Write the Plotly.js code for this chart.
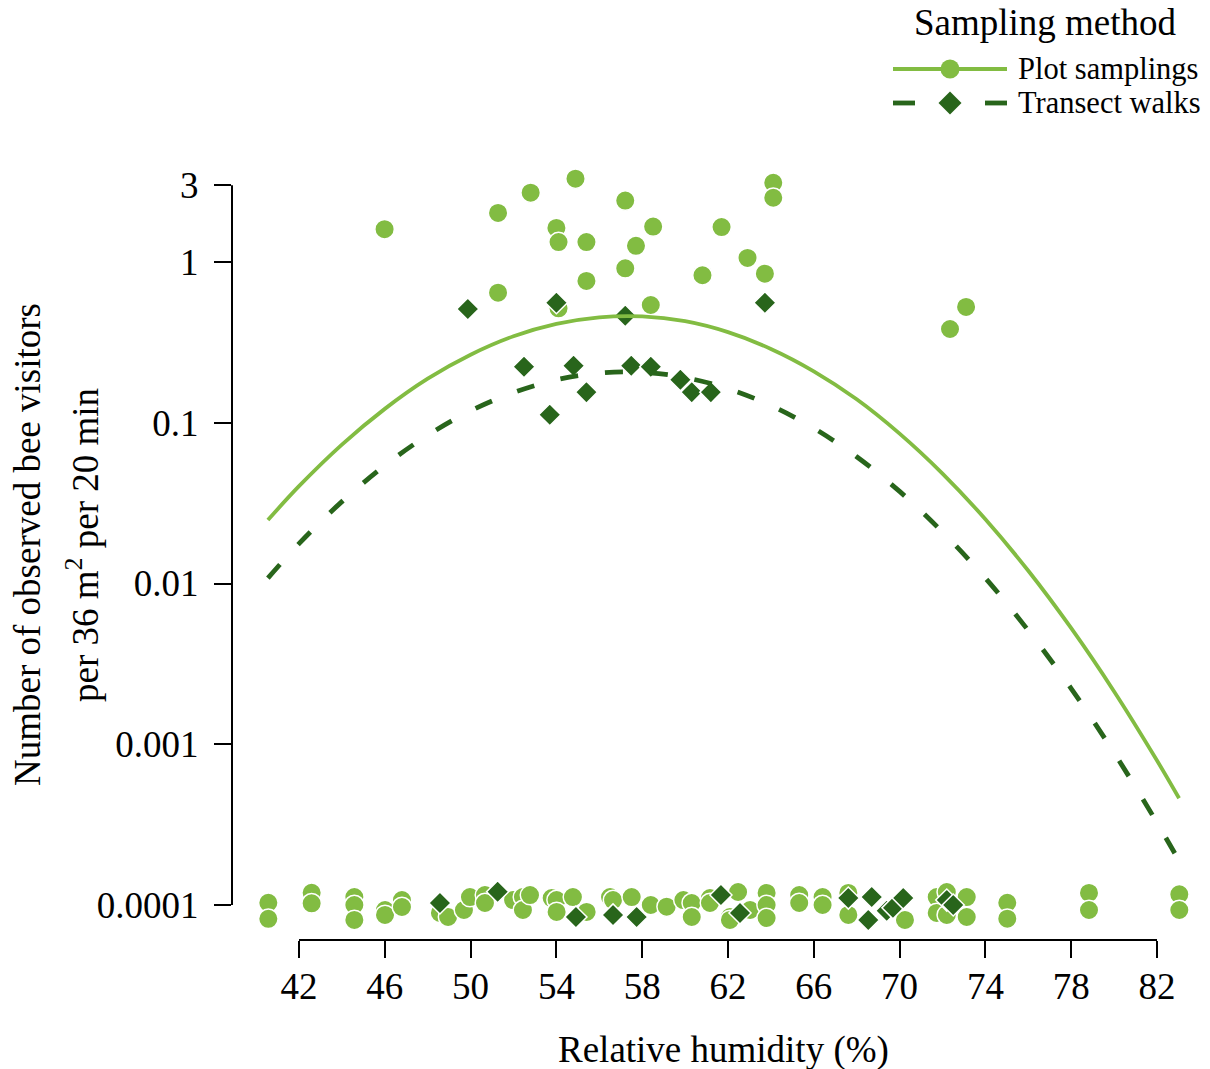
<!DOCTYPE html>
<html>
<head>
<meta charset="utf-8">
<script src="https://cdn.plot.ly/plotly-3.0.1.min.js"></script>
<style>html,body{margin:0;padding:0;background:#fff;}#chart{width:1210px;height:1069px;}</style>
</head>
<body>
<div id="chart"></div>
<script>
// ---------------- DATA ----------------
// Plot samplings (circles); zero counts are drawn jittered around 0.0001
const plotHumidity = [
  45.99, 51.28, 52.80, 54.89, 54.00, 54.10, 55.40, 57.21, 58.51, 57.71, 57.21, 55.40,
  61.70, 62.91, 60.81, 63.72, 64.11, 64.11, 51.28, 54.10, 58.40, 72.35, 73.10,
  40.57, 40.57, 42.59, 42.59, 44.58, 44.58, 44.58, 46.01, 46.01, 46.80, 46.80, 48.57,
  48.95, 49.69, 49.97, 50.67, 50.67, 51.98, 52.44, 52.44, 52.77, 53.78, 54.01, 54.01,
  54.77, 55.41, 56.50, 56.64, 57.51, 58.40, 59.14, 59.92, 60.31, 60.31, 61.16, 61.16,
  62.09, 62.09, 62.47, 63.03, 63.80, 63.80, 63.80, 65.32, 65.32, 66.41, 66.41, 67.61,
  67.61, 70.25, 71.73, 71.73, 72.20, 72.20, 73.13, 73.13, 75.02, 75.02, 78.83, 78.83,
  83.04, 83.04
];
const plotVisitors = [
  1.60, 2.02, 2.70, 3.30, 1.63, 1.33, 1.33, 2.41, 1.66, 1.26, 0.914, 0.762,
  1.65, 1.06, 0.827, 0.846, 3.11, 2.51, 0.644, 0.515, 0.540, 0.383, 0.525,
  1.033e-4, 0.82e-4, 1.19e-4, 1.025e-4, 1.12e-4, 1.00e-4, 0.807e-4, 0.93e-4, 0.867e-4, 1.074e-4, 0.972e-4, 0.892e-4,
  0.842e-4, 0.931e-4, 1.12e-4, 1.153e-4, 1.029e-4, 1.074e-4, 1.12e-4, 0.931e-4, 1.153e-4, 1.105e-4, 1.074e-4, 0.905e-4,
  1.12e-4, 0.905e-4, 1.12e-4, 1.074e-4, 1.12e-4, 1.00e-4, 0.976e-4, 1.074e-4, 1.029e-4, 0.842e-4, 1.105e-4, 1.029e-4,
  0.842e-4, 0.807e-4, 1.205e-4, 0.931e-4, 1.188e-4, 1.00e-4, 0.83e-4, 1.153e-4, 1.029e-4, 1.12e-4, 1.00e-4, 1.188e-4,
  0.867e-4, 0.807e-4, 1.12e-4, 0.892e-4, 1.205e-4, 0.867e-4, 1.12e-4, 0.842e-4, 1.033e-4, 0.822e-4, 1.188e-4, 0.931e-4,
  1.166e-4, 0.931e-4
];
// Transect walks (diamonds)
const transectHumidity = [
  49.87, 54.00, 57.21, 63.72, 52.49, 54.80, 55.40, 53.69, 57.49, 58.40, 59.78, 60.31, 61.20,
  48.57, 51.26, 54.91, 56.64, 57.74, 61.67, 62.56, 67.61, 68.54, 68.70, 69.40, 69.69, 70.17, 72.20, 72.50
];
const transectVisitors = [
  0.510, 0.558, 0.463, 0.558, 0.223, 0.226, 0.155, 0.112, 0.226, 0.223, 0.185, 0.155, 0.155,
  1.029e-4, 1.21e-4, 0.842e-4, 0.867e-4, 0.842e-4, 1.153e-4, 0.892e-4, 1.105e-4, 0.807e-4, 1.12e-4, 0.92e-4, 0.96e-4, 1.105e-4, 1.074e-4, 1.00e-4
];
// Fitted curves
const fitHumidity = [40.55, 42, 44, 46, 48, 50, 52, 54, 56, 58, 60, 62, 64, 66, 68, 70, 72, 74, 76, 78, 80, 82, 83.03];
const plotFit = [0.0248, 0.0403, 0.0731, 0.122, 0.188, 0.265, 0.345, 0.412, 0.453, 0.459, 0.428, 0.366, 0.288,
                 0.209, 0.140, 0.0856, 0.0483, 0.0251, 0.0120, 0.00527, 0.00213, 0.000792, 0.000461];
const transectFit = [0.0108, 0.0177, 0.0323, 0.0542, 0.0836, 0.1185, 0.154, 0.185, 0.2035, 0.206, 0.191, 0.163, 0.128,
                     0.0926, 0.0614, 0.0374, 0.0209, 0.0108, 0.0051, 0.00222, 0.000885, 0.000325, 0.000188];
// Axis ticks
const xTickVals = [42, 46, 50, 54, 58, 62, 66, 70, 74, 78, 82];
const xTickText = ["42", "46", "50", "54", "58", "62", "66", "70", "74", "78", "82"];
const yTickVals = [0.0001, 0.001, 0.01, 0.1, 1, 3];
const yTickText = ["0.0001", "0.001", "0.01", "0.1", "1", "3"];
const seriesNames = ["Plot samplings", "Transect walks"];
const legendTitle = "Sampling method";
const xTitle = "Relative humidity (%)";
const yTitle1 = "Number of observed bee visitors";
const yTitle2 = "per 36 m<sup>2</sup> per 20 min";

// ---------------- STYLE / LAYOUT ----------------
const LIGHT = "#82bc42";
const DARK = "#28651b";
const FONT = "Liberation Serif, Times New Roman, serif";
const W = 1210, H = 1069, ML = 232, MR = 0, MT = 150, MB = 129;
const PW = W - ML - MR, PH = H - MT - MB;
const XR = [38.8765, 84.471];
const YR = [-4.2177, 0.6967];
const px = v => (v - ML) / PW;          // pixel -> paper x
const py = v => (H - MB - v) / PH;      // pixel -> paper y
const yFrac = v => (Math.log10(v) - YR[0]) / (YR[1] - YR[0]);

const traces = [
  {x: plotHumidity, y: plotVisitors, type: "scatter", mode: "markers", cliponaxis: false,
   marker: {symbol: "circle", size: 19.5, color: LIGHT, line: {color: "#ffffff", width: 1.5}}, hoverinfo: "skip"},
  {x: transectHumidity, y: transectVisitors, type: "scatter", mode: "markers", cliponaxis: false,
   marker: {symbol: "diamond", size: 17, color: DARK, line: {color: "#ffffff", width: 1.5}}, hoverinfo: "skip"},
  {x: fitHumidity, y: plotFit, type: "scatter", mode: "lines", cliponaxis: false,
   line: {color: LIGHT, width: 3.8, shape: "spline"}, hoverinfo: "skip"},
  {x: fitHumidity, y: transectFit, type: "scatter", mode: "lines", cliponaxis: false,
   line: {color: DARK, width: 4.8, shape: "spline", dash: "18px,27px"}, hoverinfo: "skip"}
];

const shapes = [
  // axis lines spanning the tick range (base-R style)
  {type: "line", xref: "x", yref: "paper", x0: xTickVals[0], x1: xTickVals[xTickVals.length - 1], y0: 0, y1: 0,
   line: {color: "#000", width: 2}},
  {type: "line", xref: "paper", yref: "paper", x0: 0, x1: 0, y0: yFrac(yTickVals[0]), y1: yFrac(yTickVals[yTickVals.length - 1]),
   line: {color: "#000", width: 2}},
  // legend keys
  {type: "line", xref: "paper", yref: "paper", x0: px(893), x1: px(1007), y0: py(69), y1: py(69),
   line: {color: LIGHT, width: 3.8}},
  {type: "line", xref: "paper", yref: "paper", x0: px(893), x1: px(915), y0: py(103), y1: py(103),
   line: {color: DARK, width: 4.8}},
  {type: "line", xref: "paper", yref: "paper", x0: px(985), x1: px(1007), y0: py(103), y1: py(103),
   line: {color: DARK, width: 4.8}},
  {type: "circle", xref: "paper", yref: "paper", xsizemode: "pixel", ysizemode: "pixel",
   xanchor: px(950), yanchor: py(69), x0: -9.5, x1: 9.5, y0: -9.5, y1: 9.5,
   fillcolor: LIGHT, line: {color: LIGHT, width: 0}},
  {type: "path", xref: "paper", yref: "paper", xsizemode: "pixel", ysizemode: "pixel",
   xanchor: px(950), yanchor: py(103), path: "M0,-11.5 L11.5,0 L0,11.5 L-11.5,0 Z",
   fillcolor: DARK, line: {color: DARK, width: 0}}
];

const annotations = [
  {text: yTitle1, xref: "paper", yref: "paper", x: px(27), y: py(545), textangle: -90,
   xanchor: "center", yanchor: "middle", showarrow: false, font: {family: FONT, size: 37, color: "#000"}},
  {text: yTitle2, xref: "paper", yref: "paper", x: px(82), y: py(545), textangle: -90,
   xanchor: "center", yanchor: "middle", showarrow: false, font: {family: FONT, size: 37, color: "#000"}},
  {text: xTitle, xref: "paper", yref: "paper", x: px(723), y: py(1050),
   xanchor: "center", yanchor: "middle", showarrow: false, font: {family: FONT, size: 37, color: "#000"}},
  {text: legendTitle, xref: "paper", yref: "paper", x: px(1045), y: py(22),
   xanchor: "center", yanchor: "middle", showarrow: false, font: {family: FONT, size: 37, color: "#000"}},
  {text: seriesNames[0], xref: "paper", yref: "paper", x: px(1016), y: py(69),
   xanchor: "left", yanchor: "middle", showarrow: false, font: {family: FONT, size: 30.5, color: "#000"}},
  {text: seriesNames[1], xref: "paper", yref: "paper", x: px(1016), y: py(103),
   xanchor: "left", yanchor: "middle", showarrow: false, font: {family: FONT, size: 30.5, color: "#000"}}
];

const layout = {
  width: W, height: H,
  margin: {l: ML, r: MR, t: MT, b: MB, pad: 0},
  paper_bgcolor: "#fff", plot_bgcolor: "#fff",
  showlegend: false,
  font: {family: FONT, color: "#000"},
  xaxis: {range: XR, tickmode: "array", tickvals: xTickVals, ticktext: xTickText,
          ticks: "outside", ticklen: 17, tickwidth: 2, tickcolor: "#000",
          showline: false, showgrid: false, zeroline: false, automargin: false,
          ticklabelstandoff: -3,
          tickfont: {family: FONT, size: 37, color: "#000"}},
  yaxis: {type: "log", range: YR, tickmode: "array", tickvals: yTickVals, ticktext: yTickText,
          ticks: "outside", ticklen: 17, tickwidth: 2, tickcolor: "#000",
          showline: false, showgrid: false, zeroline: false, automargin: false,
          ticklabelstandoff: 8,
          tickfont: {family: FONT, size: 37, color: "#000"}},
  shapes: shapes,
  annotations: annotations
};

Plotly.newPlot("chart", traces, layout, {displayModeBar: false, staticPlot: true});
</script>
</body>
</html>
